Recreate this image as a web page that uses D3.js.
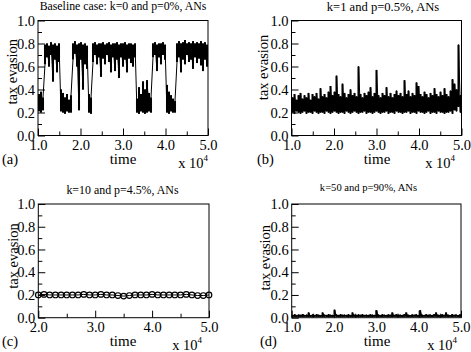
<!DOCTYPE html>
<html>
<head>
<meta charset="utf-8">
<script src="https://cdn.jsdelivr.net/npm/d3@7"></script>
<style>
body { margin: 0; background: #fff; }
svg text { font-family: "Liberation Serif", "Times New Roman", serif; fill: #000; }
</style>
</head>
<body>
<svg width="471" height="352"></svg>
<script>
// ---- data ----
const titles = ["Baseline case: k=0 and p=0%, ANs", "k=1 and p=0.5%, ANs", "k=10 and p=4.5%, ANs", "k=50 and p=90%, ANs"];
const letters = ["(a)", "(b)", "(c)", "(d)"];
const yMajor = [0, 0.2, 0.4, 0.6, 0.8, 1.0];
const yMinor = [0.1, 0.3, 0.5, 0.7, 0.9];
const xMajorLong = [1, 2, 3, 4, 5];
const xMinorLong = [1.5, 2.5, 3.5, 4.5];
const xMajorShort = [2, 3, 4, 5];
const xMinorShort = [2.5, 3.5, 4.5];

// (a) low / high envelope of the noisy series, one pair per time slice, t = 1.0 .. 5.0 (x 10^4)
const evasionA = [
	.21,.36, .20,.38, .22,.33, .62,.79, .68,.80, .60,.78, .70,.81, .47,.79, .66,.80, .55,.78,
	.64,.80, .21,.40, .20,.37, .19,.33, .21,.36, .20,.31, .20,.35, .66,.80, .71,.82, .60,.79,
	.22,.80, .66,.81, .40,.79, .62,.80, .58,.78, .20,.36, .19,.33, .64,.80, .70,.81, .62,.79,
	.68,.80, .51,.80, .67,.81, .62,.79, .70,.80, .64,.81, .55,.79, .68,.80, .56,.80, .66,.81,
	.50,.79, .68,.80, .60,.80, .66,.81, .55,.79, .67,.80, .63,.80, .60,.79, .68,.80, .20,.32,
	.19,.42, .21,.36, .20,.47, .19,.40, .20,.48, .21,.37, .20,.33, .68,.80, .70,.81, .56,.79,
	.68,.80, .62,.80, .70,.81, .66,.79, .20,.44, .19,.38, .21,.35, .20,.32, .20,.30, .64,.80,
	.68,.82, .55,.80, .66,.81, .62,.83, .70,.80, .64,.81, .66,.80, .58,.82, .68,.80, .63,.81,
	.67,.80, .61,.82, .56,.80, .66,.81, .60,.79
];

// (b) t = 1.0 .. 5.0
const evasionB = [
	.20,.33, .19,.36, .21,.31, .20,.35, .19,.37, .20,.32, .21,.35, .19,.33, .20,.37, .20,.31,
	.19,.36, .21,.34, .20,.37, .19,.32, .20,.41, .20,.34, .19,.36, .21,.33, .20,.38, .19,.43,
	.20,.35, .21,.38, .20,.52, .19,.36, .20,.34, .20,.45, .19,.37, .21,.33, .20,.36, .19,.40,
	.20,.35, .21,.37, .20,.34, .19,.60, .20,.36, .20,.33, .21,.37, .19,.35, .20,.38, .20,.42,
	.19,.34, .20,.37, .21,.57, .20,.35, .19,.33, .20,.37, .20,.35, .21,.42, .19,.34, .20,.37,
	.20,.33, .19,.36, .21,.39, .20,.35, .20,.37, .19,.34, .20,.48, .20,.36, .21,.39, .19,.34,
	.20,.37, .20,.35, .19,.46, .21,.43, .20,.36, .20,.34, .19,.38, .20,.36, .21,.33, .19,.37,
	.20,.35, .20,.41, .19,.36, .21,.34, .20,.38, .20,.35, .19,.41, .20,.36, .20,.34, .21,.39,
	.19,.49, .22,.45, .21,.40, .25,.79, .20,.35
];

// (c) sampled every 0.1, t = 2.0 .. 5.0
const evasionC = [0.20, 0.205, 0.20, 0.20, 0.20, 0.20, 0.20, 0.20, 0.205, 0.20, 0.20, 0.205, 0.20, 0.20, 0.195, 0.19,
	0.195, 0.20, 0.20, 0.20, 0.205, 0.20, 0.20, 0.20, 0.20, 0.20, 0.205, 0.20, 0.195, 0.195, 0.20];

// (d) t = 1.0 .. 5.0
const evasionD = [
	.008,.024, .006,.030, .009,.022, .007,.028, .008,.025, .006,.032, .009,.023, .008,.027, .007,.045, .008,.024,
	.006,.029, .009,.023, .008,.031, .007,.026, .008,.024, .006,.045, .009,.027, .008,.023, .007,.030, .008,.026,
	.006,.024, .009,.070, .008,.028, .007,.023, .008,.031, .006,.025, .009,.027, .008,.024, .007,.030, .008,.023,
	.006,.045, .009,.026, .008,.024, .007,.029, .008,.025, .006,.031, .009,.023, .008,.027, .007,.024, .008,.030,
	.006,.026, .009,.024, .008,.065, .007,.028, .008,.024, .006,.030, .009,.025, .008,.023, .007,.029, .008,.026,
	.006,.045, .009,.024, .008,.030, .007,.025, .008,.027, .006,.024, .009,.031, .008,.045, .007,.026, .008,.024,
	.006,.029, .009,.025, .008,.030, .007,.023, .008,.065, .006,.027, .009,.024, .008,.030, .007,.025, .008,.028,
	.006,.024, .009,.031, .008,.045, .007,.026, .008,.024, .006,.030, .009,.025, .008,.045, .007,.027, .008,.024,
	.006,.030, .009,.025, .008,.028, .007,.024, .008,.030
];

// ---- layout ----
const serif = "'Liberation Serif', 'Times New Roman', serif";
const panels = [
	{ values: evasionA, domain: [1, 5], box: [38, 20.5, 208, 135.5], major: xMajorLong, minor: xMinorLong,
		titleX: 123, titleY: 10, titleSize: 11.8, yLab: [16.5, 71.7], timeX: 123, letterX: 2, expX: 208 },
	{ values: evasionB, domain: [1, 5], box: [291.5, 20.5, 461.5, 135.5], major: xMajorLong, minor: xMinorLong,
		titleX: 383, titleY: 11, titleSize: 12.6, yLab: [268, 67.5], timeX: 377, letterX: 257, expX: 455 },
	{ values: evasionC, domain: [2, 5], box: [38.3, 204, 209, 317.7], major: xMajorShort, minor: xMinorShort,
		titleX: 122.5, titleY: 193.5, titleSize: 11.9, yLab: [18, 256], timeX: 123, letterX: 2, expX: 202, marker: true },
	{ values: evasionD, domain: [1, 5], box: [291.7, 204, 461, 317.7], major: xMajorLong, minor: xMinorLong,
		titleX: 368.5, titleY: 191, titleSize: 10.6, yLab: [269.5, 257.7], timeX: 377, letterX: 260, expX: 457 }
];

const svg = d3.select("svg");

panels.forEach((p, i) => {
	const [x0, y0, x1, y1] = p.box;
	const x = d3.scaleLinear().domain(p.domain).range([x0, x1]);
	const y = d3.scaleLinear().domain([0, 1]).range([y1, y0]);
	const g = svg.append("g");

	if (p.marker) {
		// plain series with open circles
		const n = p.values.length;
		const t = d3.range(n).map((k) => p.domain[0] + (p.domain[1] - p.domain[0]) * k / (n - 1));
		const pts = p.values.map((v, k) => [x(t[k]), y(v)]);
		g.append("path")
			.attr("d", d3.line()(pts))
			.attr("fill", "none")
			.attr("stroke", "#000")
			.attr("stroke-width", 1);
		g.selectAll("circle").data(pts).enter().append("circle")
			.attr("cx", (d) => d[0])
			.attr("cy", (d) => d[1])
			.attr("r", 2.8)
			.attr("fill", "none")
			.attr("stroke", "#000")
			.attr("stroke-width", 1.2);
	} else {
		// noisy series: one vertical stroke per slice from low to high value
		const m = p.values.length / 2;
		const step = (p.domain[1] - p.domain[0]) / m;
		const slices = d3.range(m).map((k) => ({
			t: p.domain[0] + step * (k + 0.5),
			lo: p.values[2 * k],
			hi: p.values[2 * k + 1]
		}));
		let d = "";
		slices.forEach((s) => {
			d += `M${x(s.t)},${y(s.lo)}V${y(s.hi)}`;
		});
		g.append("path")
			.attr("d", d)
			.attr("fill", "none")
			.attr("stroke", "#000")
			.attr("stroke-width", x(p.domain[0] + step) - x(p.domain[0]) + 0.05);
		// thin trace through the slices so jumps between levels show
		const trace = [];
		slices.forEach((s) => {
			trace.push([x(s.t), y(s.lo)], [x(s.t), y(s.hi)]);
		});
		g.append("path")
			.attr("d", d3.line()(trace))
			.attr("fill", "none")
			.attr("stroke", "#000")
			.attr("stroke-width", 1);
	}

	// axes, ticks inward
	const fmt = d3.format(".1f");
	const clean = (a) => {
		a.select(".domain").remove();
		a.attr("font-family", null).attr("font-size", null);
	};
	g.append("g").attr("transform", `translate(${x0},0)`)
		.call(d3.axisLeft(y).tickValues(yMajor).tickSize(-7).tickPadding(3).tickFormat(fmt))
		.call(clean);
	g.append("g").attr("transform", `translate(${x0},0)`)
		.call(d3.axisLeft(y).tickValues(yMinor).tickSize(-4).tickFormat(""))
		.call(clean);
	g.append("g").attr("transform", `translate(0,${y1})`)
		.call(d3.axisBottom(x).tickValues(p.major).tickSize(-7).tickPadding(4).tickFormat(fmt))
		.call(clean);
	g.append("g").attr("transform", `translate(0,${y1})`)
		.call(d3.axisBottom(x).tickValues(p.minor).tickSize(-4).tickFormat(""))
		.call(clean);
	g.selectAll(".tick text").attr("font-size", 14.5).attr("font-family", serif);
	g.selectAll(".tick line").attr("stroke", "#000");

	g.append("rect")
		.attr("x", x0).attr("y", y0)
		.attr("width", x1 - x0).attr("height", y1 - y0)
		.attr("fill", "none").attr("stroke", "#000").attr("stroke-width", 1);

	// texts
	g.append("text").attr("x", p.titleX).attr("y", p.titleY)
		.attr("text-anchor", "middle").attr("font-family", serif).attr("font-size", p.titleSize).text(titles[i]);
	g.append("text")
		.attr("transform", `translate(${p.yLab[0]},${p.yLab[1]}) rotate(-90)`)
		.attr("text-anchor", "middle").attr("font-family", serif).attr("font-size", 14.5).text("tax evasion");
	g.append("text").attr("x", p.timeX).attr("y", y1 + 28.5)
		.attr("text-anchor", "middle").attr("font-family", serif).attr("font-size", 15).text("time");
	g.append("text").attr("x", p.letterX).attr("y", y1 + 28)
		.attr("font-family", serif).attr("font-size", 14.5).text(letters[i]);
	const ex = g.append("text").attr("x", p.expX).attr("y", y1 + 32)
		.attr("text-anchor", "end").attr("font-family", serif).attr("font-size", 14.5);
	ex.append("tspan").text("x 10");
	ex.append("tspan").attr("dy", -7).attr("font-size", 9).text("4");
});
</script>
</body>
</html>
